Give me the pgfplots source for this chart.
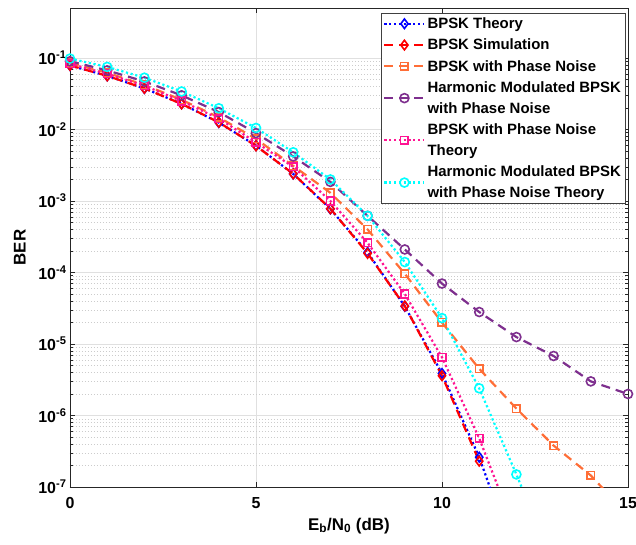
\documentclass[border=0pt]{standalone}
\usepackage{fontspec}
\setmainfont{Liberation Sans}
\usepackage{pgfplots}
\pgfplotsset{compat=1.18}
\definecolor{cBlue}{RGB}{0,0,255}
\definecolor{cRed}{RGB}{255,0,0}
\definecolor{cOrange}{RGB}{255,110,55}
\definecolor{cPurple}{RGB}{126,47,142}
\definecolor{cPink}{RGB}{255,20,147}
\definecolor{cCyan}{RGB}{0,255,255}
\tikzset{
  mdot/.style={line width=2.2bp, dash pattern=on 2.2bp off 2.6bp},
  mdash/.style={line width=2.2bp, dash pattern=on 9bp off 6bp},
}
\begin{document}
\begin{tikzpicture}
\path[use as bounding box] (-70bp,-58bp) rectangle (566bp,487bp);
\begin{axis}[
  scale only axis, width=558bp, height=479bp,
  at={(0,0)}, anchor=south west,
  ymode=log, xmin=0, xmax=15, ymin=1e-7, ymax=0.5,
  xtick={0,5,10,15}, xticklabels={0,5,10,15},
  ytick={1e-7,1e-6,1e-5,1e-4,1e-3,1e-2,1e-1},
  yticklabels={10\textsuperscript{-7},10\textsuperscript{-6},10\textsuperscript{-5},10\textsuperscript{-4},10\textsuperscript{-3},10\textsuperscript{-2},10\textsuperscript{-1}},
  ticklabel style={font=\fontsize{16}{18}\selectfont\bfseries},
  xticklabel style={yshift=-7bp},
  tick align=inside, major tick length=5bp, minor tick length=3bp,
  xtick pos=both, ytick pos=both,
  axis line style={line width=0.8bp, black!85},
  tick style={black!85, line width=0.6bp},
  ymajorgrids, yminorgrids, xmajorgrids,
  major grid style={black!12, line width=0.6bp},
  minor grid style={black!20, line width=0.5bp, dash pattern=on 1bp off 2bp},
  xlabel={E\textsubscript{b}/N\textsubscript{0} (dB)},
  ylabel={BER},
  every axis x label/.style={at={(axis description cs:0.5,-0.081)}, anchor=center, font=\fontsize{17}{19}\selectfont\bfseries},
  every axis y label/.style={at={(axis description cs:-0.09,0.5)}, rotate=90, anchor=center, font=\fontsize{17}{19}\selectfont\bfseries},
  legend cell align=left,
  legend style={at={(0.996,0.990)}, anchor=north east, font=\fontsize{15}{21}\selectfont\bfseries,
    cells={align=left}, draw=black!75, line width=0.6bp, inner sep=2.5bp, row sep=5bp},
  legend image code/.code={\draw[mark repeat=2,mark phase=2] plot coordinates {(0bp,0bp)(20bp,0bp)(40bp,0bp)};},
  mark options={solid, line width=1.6bp},
]
\addplot[cBlue, mdot, mark=diamond, mark size=4.8bp] coordinates {
(0,0.0786)(1,0.0563)(2,0.0375)(3,0.0229)(4,0.0125)(5,0.00595)(6,0.00239)(7,7.73e-4)(8,1.91e-4)(9,3.36e-5)(10,3.87e-6)(11,2.61e-7)(12,9.0e-9)};
\addlegendentry{BPSK Theory}
\addplot[cRed, mdash, mark=diamond, mark size=4.8bp] coordinates {
(0,0.0787)(1,0.0562)(2,0.0376)(3,0.0228)(4,0.0126)(5,0.0059)(6,0.0024)(7,7.8e-4)(8,1.85e-4)(9,3.4e-5)(10,3.6e-6)(11,2.3e-7)};
\addlegendentry{BPSK Simulation}
\addplot[cOrange, mdash, mark=square, mark size=3.8bp] coordinates {
(0,0.085)(1,0.062)(2,0.042)(3,0.026)(4,0.0148)(5,0.0074)(6,0.0031)(7,1.3e-3)(8,4.0e-4)(9,9.6e-5)(10,2.0e-5)(11,4.5e-6)(12,1.25e-6)(13,3.8e-7)(14,1.45e-7)(15,4e-8)};
\addlegendentry{BPSK with Phase Noise}
\addplot[cPurple, mdash, mark=o, mark size=4.5bp] coordinates {
(0,0.090)(1,0.067)(2,0.047)(3,0.030)(4,0.0175)(5,0.0089)(6,0.0042)(7,1.85e-3)(8,6.2e-4)(9,2.1e-4)(10,7.0e-5)(11,2.8e-5)(12,1.25e-5)(13,6.8e-6)(14,3.0e-6)(15,2.0e-6)};
\addlegendentry{Harmonic Modulated BPSK\\with Phase Noise}
\addplot[cPink, mdot, mark=square, mark size=3.8bp] coordinates {
(0,0.083)(1,0.060)(2,0.041)(3,0.025)(4,0.0142)(5,0.0066)(6,0.0030)(7,1.0e-3)(8,2.6e-4)(9,5.0e-5)(10,6.5e-6)(11,4.8e-7)(12,2.2e-8)};
\addlegendentry{BPSK with Phase Noise\\Theory}
\addplot[cCyan, mdot, mark=o, mark size=4.5bp] coordinates {
(0,0.098)(1,0.075)(2,0.053)(3,0.034)(4,0.0198)(5,0.0105)(6,0.0048)(7,2.0e-3)(8,6.2e-4)(9,1.4e-4)(10,2.3e-5)(11,2.4e-6)(12,1.5e-7)(13,8e-9)};
\addlegendentry{Harmonic Modulated BPSK\\with Phase Noise Theory}
\end{axis}
\end{tikzpicture}
\end{document}
